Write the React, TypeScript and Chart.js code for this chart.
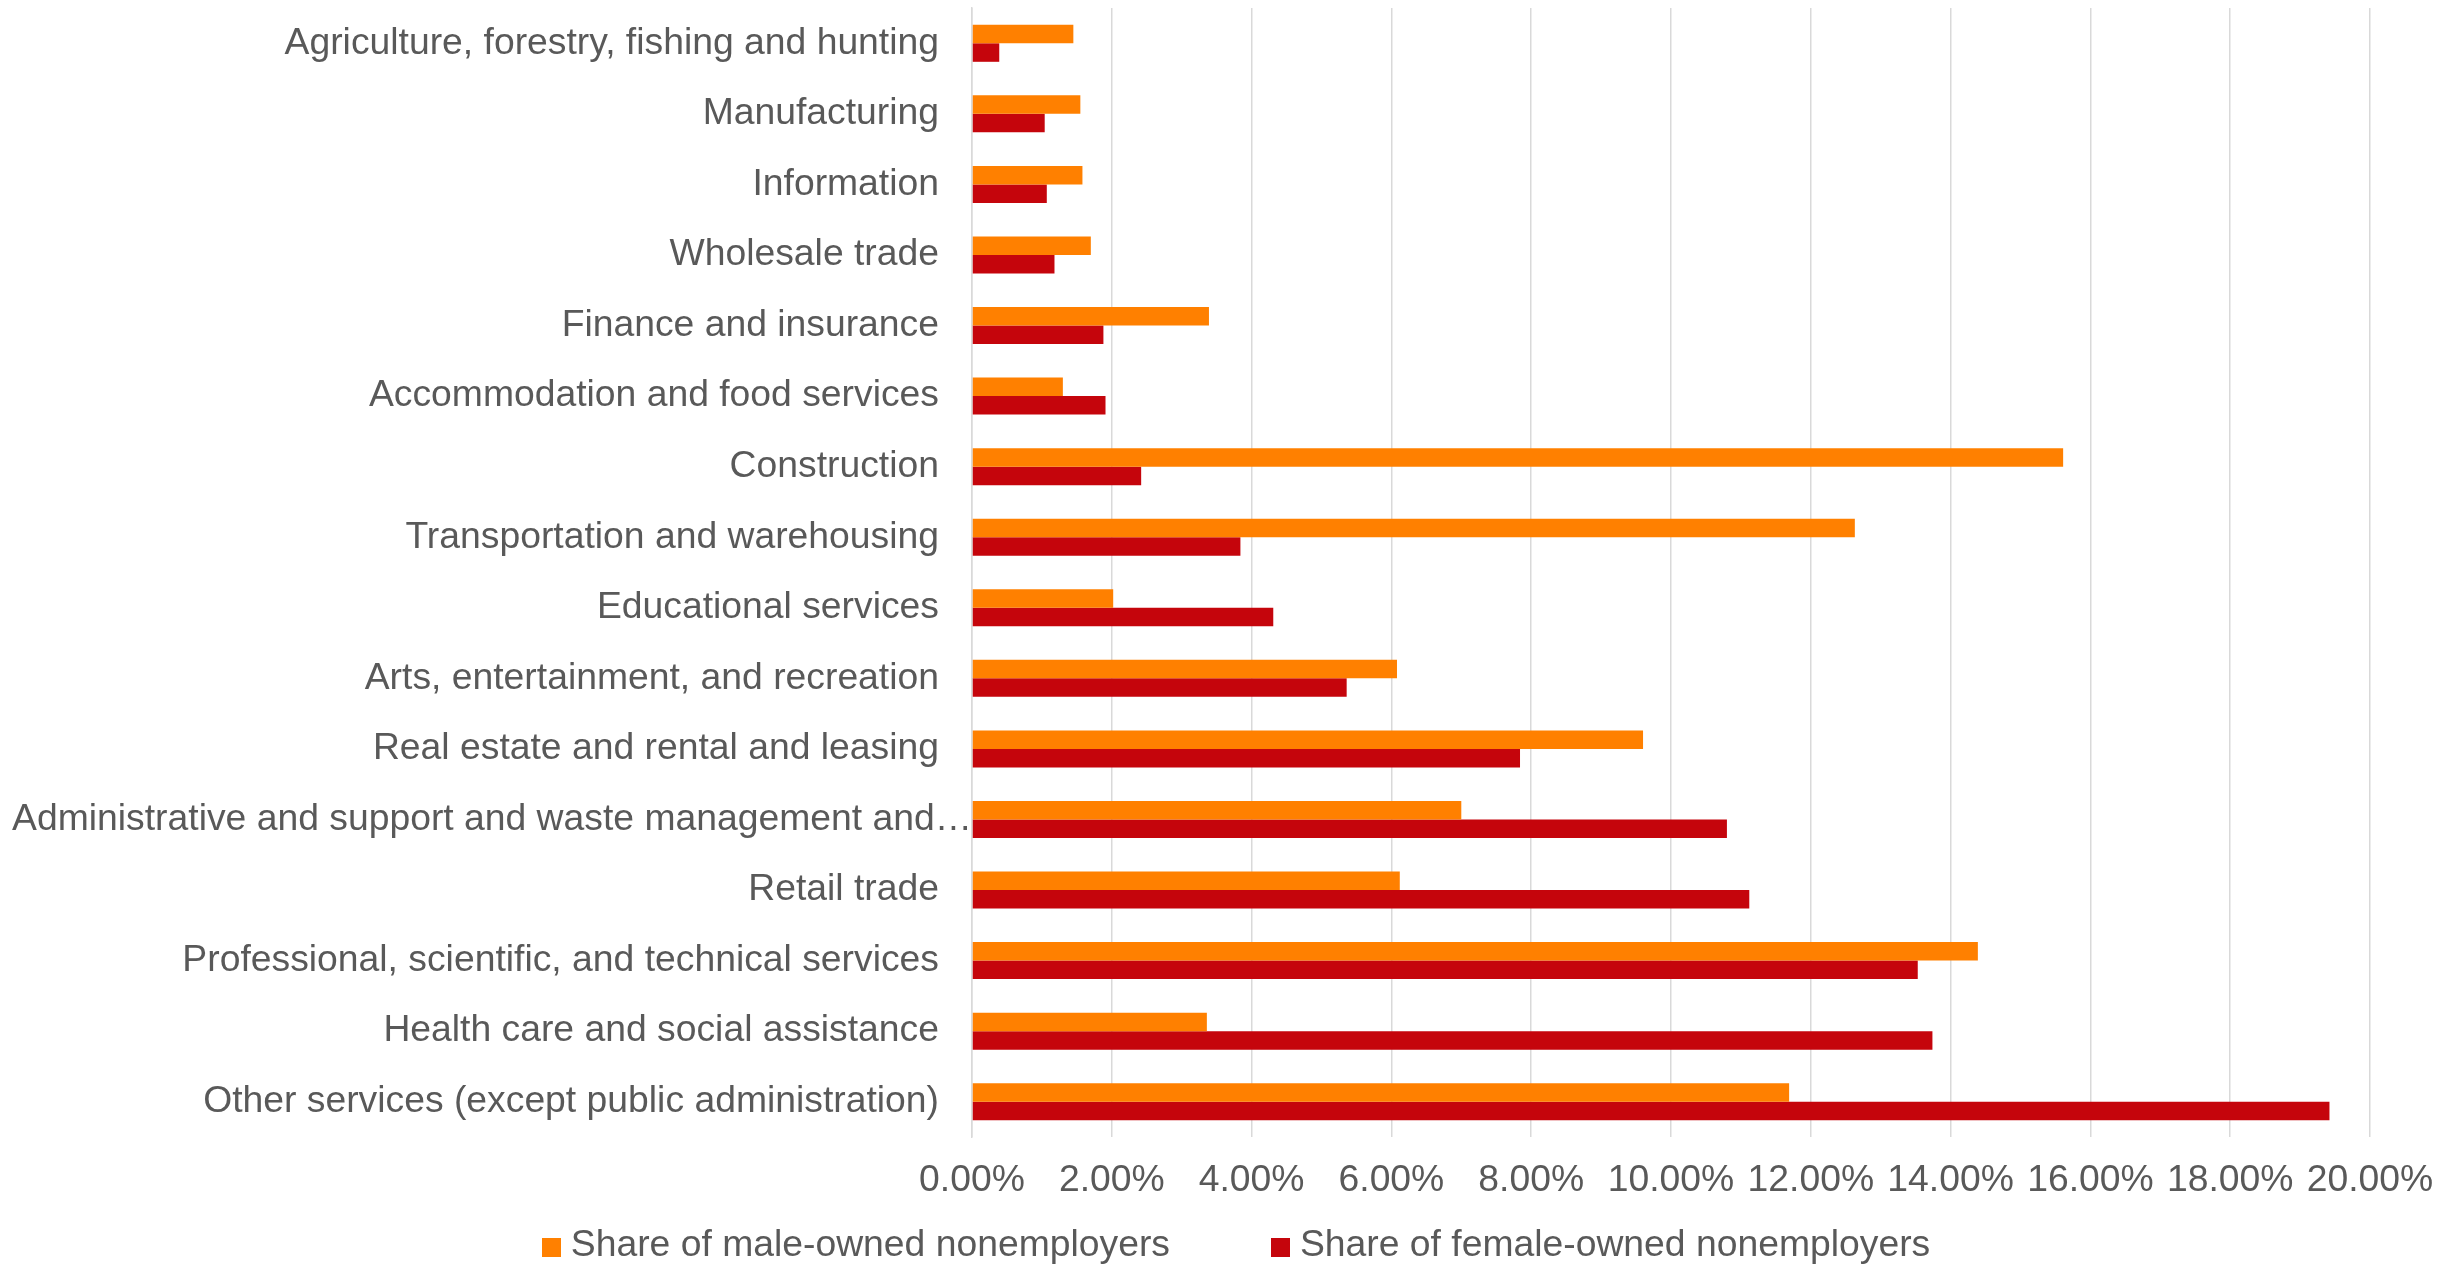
import React, { useEffect, useRef } from 'react';
import { Chart, registerables } from 'chart.js';

Chart.register(...registerables);

const categories = [
  'Agriculture, forestry, fishing and hunting',
  'Manufacturing',
  'Information',
  'Wholesale trade',
  'Finance and insurance',
  'Accommodation and food services',
  'Construction',
  'Transportation and warehousing',
  'Educational services',
  'Arts, entertainment, and recreation',
  'Real estate and rental and leasing',
  'Administrative and support and waste management and…',
  'Retail trade',
  'Professional, scientific, and technical services',
  'Health care and social assistance',
  'Other services (except public administration)',
];

const maleShare = [1.45, 1.55, 1.58, 1.7, 3.39, 1.3, 15.61, 12.63, 2.02, 6.08, 9.6, 7.0, 6.12, 14.39, 3.36, 11.69];
const femaleShare = [0.39, 1.04, 1.07, 1.18, 1.88, 1.91, 2.42, 3.84, 4.31, 5.36, 7.84, 10.8, 11.12, 13.53, 13.74, 19.42];

const seriesLabels = ['Share of male-owned nonemployers', 'Share of female-owned nonemployers'];
const seriesColors = ['#FF8000', '#C5050C'];

const xTickValues = [0, 2, 4, 6, 8, 10, 12, 14, 16, 18, 20];

const W = 2446;
const H = 1266;
const FONT_FAMILY = '"Liberation Sans", Arial, sans-serif';
const FONT_SIZE = 37.3;
const TEXT_COLOR = '#595959';
const GRID_COLOR = '#D9D9D9';

const PLOT_LEFT = 972;
const PLOT_RIGHT = 2370;
const PLOT_TOP = 8;
const PLOT_BOTTOM = 1137;

const LEGEND_CX = 1236;
const LEGEND_BASELINE = 1256;
const LEGEND_BOX_TOP = 1238;
const LEGEND_BOX = 19;
const LEGEND_GAP = 10;
const LEGEND_SPACING = 101;

// The truncated label's ellipsis overhangs toward the axis, as in the source
const TRUNCATED_SHIFT = 33;

const bottomLegend = {
  id: 'bottomLegend',
  afterDraw(chart: any) {
    const ctx = chart.ctx;
    ctx.save();
    ctx.font = `${FONT_SIZE}px ${FONT_FAMILY}`;
    ctx.textBaseline = 'alphabetic';
    ctx.textAlign = 'left';
    const items = chart.data.datasets.map((ds: any) => ({
      text: ds.label,
      color: ds.backgroundColor,
      w: ctx.measureText(ds.label).width,
    }));
    const total =
      items.reduce((s: number, it: any) => s + LEGEND_BOX + LEGEND_GAP + it.w, 0) +
      LEGEND_SPACING * (items.length - 1);
    let x = LEGEND_CX - total / 2;
    items.forEach((it: any) => {
      ctx.fillStyle = it.color;
      ctx.fillRect(Math.round(x), LEGEND_BOX_TOP, LEGEND_BOX, LEGEND_BOX);
      ctx.fillStyle = TEXT_COLOR;
      ctx.fillText(it.text, x + LEGEND_BOX + LEGEND_GAP, LEGEND_BASELINE);
      x += LEGEND_BOX + LEGEND_GAP + it.w + LEGEND_SPACING;
    });
    ctx.restore();
  },
};

const shiftTruncated = {
  id: 'shiftTruncated',
  beforeDraw(chart: any) {
    const scale = chart.scales.y;
    if (!scale || typeof scale.getLabelItems !== 'function') return;
    const items = scale.getLabelItems(chart.chartArea);
    items.forEach((it: any) => {
      const text = Array.isArray(it.label) ? it.label.join(' ') : String(it.label);
      if (text.endsWith('…') && it.options && it.options.translation && !it._shifted) {
        it.options.translation[0] += TRUNCATED_SHIFT;
        it._shifted = true;
      }
    });
  },
};

export default function App() {
  const canvasRef = useRef<HTMLCanvasElement | null>(null);

  useEffect(() => {
    if (!canvasRef.current) return;
    const chart = new Chart(canvasRef.current, {
      type: 'bar',
      data: {
        labels: categories,
        datasets: [
          {
            label: seriesLabels[0],
            data: maleShare,
            backgroundColor: seriesColors[0],
            borderWidth: 0,
            barPercentage: 1,
            categoryPercentage: 0.525,
          },
          {
            label: seriesLabels[1],
            data: femaleShare,
            backgroundColor: seriesColors[1],
            borderWidth: 0,
            barPercentage: 1,
            categoryPercentage: 0.525,
          },
        ],
      },
      options: {
        indexAxis: 'y',
        animation: false,
        responsive: false,
        devicePixelRatio: 1,
        layout: {
          padding: { top: PLOT_TOP, right: W - PLOT_RIGHT, left: 0, bottom: 0 },
        },
        plugins: {
          legend: { display: false },
          tooltip: { enabled: false },
        },
        scales: {
          x: {
            type: 'linear',
            min: 0,
            max: 20,
            afterBuildTicks: (scale: any) => {
              scale.ticks = xTickValues.map((v) => ({ value: v }));
            },
            afterFit: (scale: any) => {
              scale.height = H - PLOT_BOTTOM;
              scale.paddingLeft = 0;
              scale.paddingRight = 0;
              scale.paddingTop = 0;
              scale.paddingBottom = 0;
            },
            grid: { color: GRID_COLOR, lineWidth: 1.5, drawTicks: false },
            border: { display: false },
            ticks: {
              padding: 21,
              color: TEXT_COLOR,
              font: { family: FONT_FAMILY, size: FONT_SIZE },
              maxRotation: 0,
              autoSkip: false,
              callback: (v: any) => Number(v).toFixed(2) + '%',
            },
          },
          y: {
            type: 'category',
            afterFit: (scale: any) => {
              scale.width = PLOT_LEFT;
              scale.paddingTop = 0;
              scale.paddingBottom = 0;
              scale.paddingLeft = 0;
              scale.paddingRight = 0;
            },
            grid: { display: false, drawTicks: false },
            border: { display: true, color: GRID_COLOR, width: 1.5 },
            ticks: {
              padding: 33,
              color: TEXT_COLOR,
              autoSkip: false,
              font: { family: FONT_FAMILY, size: FONT_SIZE },
            },
          },
        },
      },
      plugins: [shiftTruncated, bottomLegend],
    });
    return () => chart.destroy();
  }, []);

  return (
    <div style={{ position: 'absolute', left: 0, top: 0, width: W, height: H, background: '#fff' }}>
      <canvas ref={canvasRef} width={W} height={H} style={{ width: W, height: H, display: 'block' }} />
    </div>
  );
}
